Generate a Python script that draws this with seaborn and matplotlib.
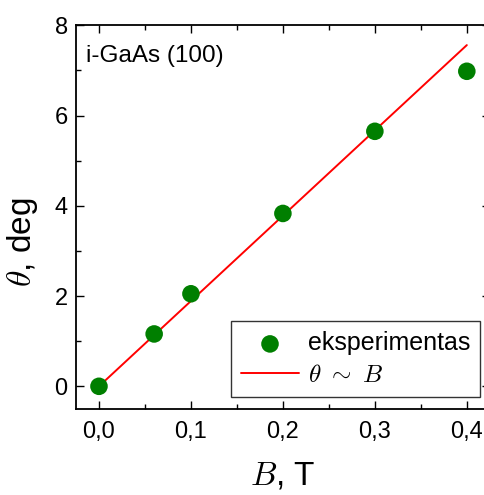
import numpy as np
import pandas as pd
import matplotlib
matplotlib.use('Agg')
import matplotlib.pyplot as plt
import seaborn as sns
from matplotlib.ticker import MultipleLocator, FuncFormatter

# data
B_exp = [0.0, 0.06, 0.1, 0.2, 0.3, 0.4]
theta_exp = [0.0, 1.16, 2.05, 3.83, 5.65, 6.98]
B_fit = [0.0, 0.4]
theta_fit = [0.0, 7.56]

sns.set_style('ticks')
plt.rcParams['font.family'] = ['Liberation Sans', 'DejaVu Sans']
plt.rcParams['mathtext.fontset'] = 'cm'
plt.rcParams.update({
    'text.color': 'black', 'axes.labelcolor': 'black', 'axes.edgecolor': 'black',
    'xtick.color': 'black', 'ytick.color': 'black',
    'xtick.direction': 'in', 'ytick.direction': 'in',
    'xtick.top': True, 'ytick.right': True,
    'xtick.minor.visible': True, 'ytick.minor.visible': True,
})

df_exp = pd.DataFrame({'B': B_exp, 'theta': theta_exp})
df_fit = pd.DataFrame({'B': B_fit, 'theta': theta_fit})

fig = plt.figure(figsize=(4.84, 4.95), dpi=100)
ax = fig.add_axes([0.157, 0.174, 0.855, 0.775])

sns.lineplot(data=df_fit, x='B', y='theta', ax=ax, color='red', lw=1.4,
             label=r'$\theta\ \sim\ B$', zorder=2)
sns.scatterplot(data=df_exp, x='B', y='theta', ax=ax, color='#007f00', s=160,
                edgecolor='none', label='eksperimentas', zorder=3)

ax.set_xlim(-0.025, 0.425)
ax.set_ylim(-0.5, 8)
ax.xaxis.set_major_locator(MultipleLocator(0.1))
ax.xaxis.set_minor_locator(MultipleLocator(0.05))
ax.yaxis.set_major_locator(MultipleLocator(2))
ax.yaxis.set_minor_locator(MultipleLocator(1))
ax.xaxis.set_major_formatter(FuncFormatter(lambda v, p: f'{v:.1f}'.replace('.', ',')))
ax.tick_params(which='both', direction='in', top=True, right=True, bottom=True, left=True,
               width=1.0, labelsize=17, colors='black')
ax.tick_params(which='major', length=6)
ax.tick_params(which='minor', length=3.5)
ax.tick_params(axis='x', which='major', pad=9)
ax.tick_params(axis='y', which='major', pad=6)
for sp in ax.spines.values():
    sp.set_linewidth(1.3)
    sp.set_color('black')

ax.set_xlabel(r'$B$, T', fontsize=24, labelpad=12)
ax.set_ylabel(r'$\theta$, deg', fontsize=24)
ax.yaxis.set_label_coords(-0.087, 0.435)
ax.text(-0.014, 7.18, 'i-GaAs (100)', fontsize=17.5, va='baseline', ha='left')

h, l = ax.get_legend_handles_labels()
leg = ax.legend(h[::-1], l[::-1], loc='lower right', bbox_to_anchor=(0.976, 0.031),
                fontsize=18, frameon=True, fancybox=False, edgecolor='black',
                borderpad=0.4, handlelength=2.3, labelspacing=0.3, handletextpad=0.35,
                borderaxespad=0.0)
leg.get_frame().set_linewidth(1.0)

fig.savefig('out.png', dpi=100)
